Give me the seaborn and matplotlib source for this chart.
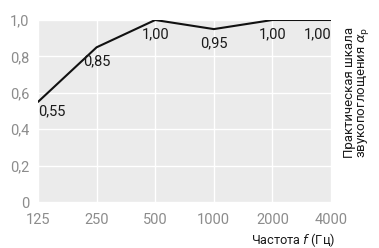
import matplotlib
matplotlib.use("Agg")
import matplotlib.pyplot as plt
import seaborn as sns
import pandas as pd

freqs = [125, 250, 500, 1000, 2000, 4000]
alpha_p = [0.55, 0.85, 1.00, 0.95, 1.00, 1.00]
labels = ["0,55", "0,85", "1,00", "0,95", "1,00", "1,00"]
yticks = [0, 0.2, 0.4, 0.6, 0.8, 1.0]
ytick_labels = ["0", "0,2", "0,4", "0,6", "0,8", "1,0"]
xtick_labels = ["125", "250", "500", "1000", "2000", "4000"]

sns.set_theme(style="darkgrid")
plt.rcParams["font.family"] = ["Roboto", "DejaVu Sans"]

df = pd.DataFrame({"f": freqs, "a": alpha_p})

fig = plt.figure(figsize=(3.79, 2.48), dpi=100)
ax = fig.add_axes([38/379, 1 - 202/248, (331-38)/379, (202-20)/248])
ax.set_facecolor("#ebebeb")
sns.lineplot(data=df, x="f", y="a", ax=ax, color="#111111", linewidth=1.5)
ax.set_xscale("log", base=2)
ax.set_xlim(125, 4000)
ax.set_ylim(0, 1.0)
ax.set_xticks(freqs)
ax.set_xticklabels(xtick_labels)
ax.set_yticks(yticks)
ax.set_yticklabels(ytick_labels)
ax.minorticks_off()
ax.grid(True, color="white", linewidth=1.0)
for s in ax.spines.values():
    s.set_visible(False)
ax.tick_params(axis="y", length=0, labelsize=10.5, labelcolor="#8c8c8c", pad=6)
ax.tick_params(axis="x", length=0, labelsize=10.5, labelcolor="#8c8c8c", pad=8)
ax.set_xlabel("")
ax.set_ylabel("")

n = len(freqs)
for i, (fx, val, lab) in enumerate(zip(freqs, alpha_p, labels)):
    ha = "left" if i == 0 else ("right" if i == n - 1 else "center")
    dy = -2 if i == 0 else -5
    ax.annotate(lab, (fx, val), xytext=(0, dy), textcoords="offset points",
                ha=ha, va="top", fontsize=10.5, color="#1a1a1a")

fig.text(335/379, 1 - 240/248, "Частота $\\mathit{f}$ (Гц)", ha="right", va="center",
         fontsize=9.2, color="#1a1a1a")
fig.text(357/379, 1 - 92/248, "Практическая шкала\nзвукопоглощения $\\alpha_\\mathrm{p}$",
         rotation=90, ha="center", va="center", fontsize=9.5, color="#1a1a1a",
         linespacing=0.9, multialignment="left")

fig.savefig("out.png", dpi=100)
